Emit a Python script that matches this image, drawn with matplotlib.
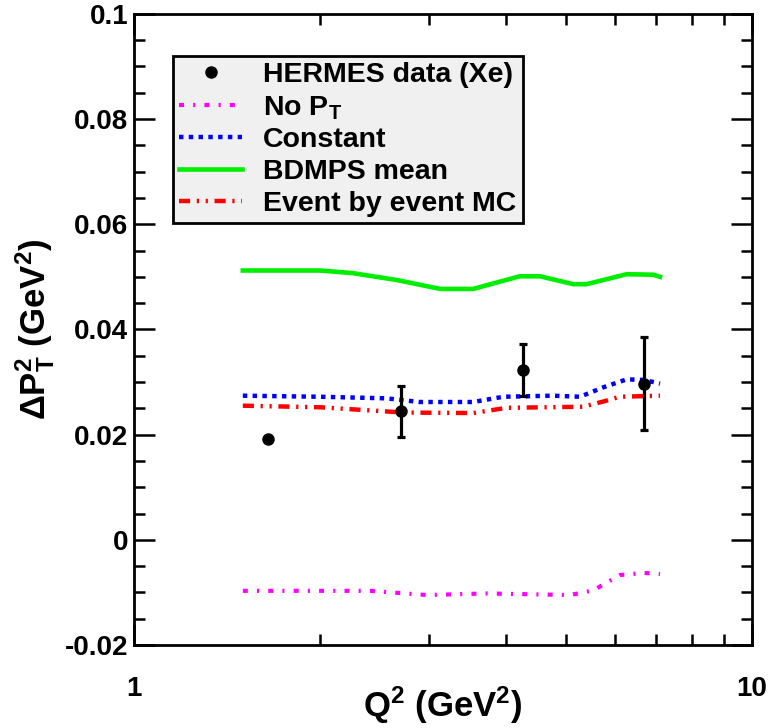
import numpy as np
import matplotlib
matplotlib.use('Agg')
import matplotlib.pyplot as plt
from matplotlib.lines import Line2D
from matplotlib.ticker import FixedLocator, NullFormatter, MultipleLocator

# fonts: bold Helvetica-like everywhere
plt.rcParams['font.family'] = 'Liberation Sans'
plt.rcParams['font.weight'] = 'bold'
plt.rcParams['mathtext.fontset'] = 'custom'
plt.rcParams['mathtext.rm'] = 'Liberation Sans:bold'
plt.rcParams['mathtext.bf'] = 'Liberation Sans:bold'
plt.rcParams['mathtext.it'] = 'Liberation Sans:bold'
plt.rcParams['mathtext.default'] = 'bf'

# HERMES data (Xe)
data_q2 = [1.65, 2.70, 4.26, 6.69]
data_dpt = [0.0191, 0.0244, 0.0323, 0.0297]
data_err = [0.0, 0.0049, 0.0050, 0.0088]

# model curves
green_q2 = [1.50, 2.00, 2.26, 2.66, 3.13, 3.54, 4.21, 4.54, 5.14, 5.40, 6.27, 6.92, 7.10]
green_dpt = [0.0512, 0.0512, 0.0507, 0.0494, 0.0477, 0.0477, 0.0501, 0.0501, 0.0486, 0.0486, 0.0505, 0.0504, 0.0500]

blue_q2 = [1.50, 2.00, 2.56, 2.90, 3.54, 3.96, 4.77, 5.27, 5.75, 6.27, 6.69, 7.10]
blue_dpt = [0.0274, 0.0272, 0.0269, 0.0262, 0.0262, 0.0272, 0.0274, 0.0272, 0.0290, 0.0305, 0.0304, 0.0297]

red_q2 = [1.50, 2.00, 2.73, 3.54, 4.01, 5.33, 5.75, 6.11, 7.10]
red_dpt = [0.0255, 0.0252, 0.0242, 0.0241, 0.0251, 0.0253, 0.0263, 0.0272, 0.0274]

mag_q2 = [1.50, 2.41, 2.98, 3.72, 5.08, 5.54, 6.11, 6.69, 7.10]
mag_dpt = [-0.0097, -0.0097, -0.0105, -0.0102, -0.0105, -0.0096, -0.0067, -0.0063, -0.0065]

fig = plt.figure(figsize=(7.72, 7.28), dpi=100)
ax = fig.add_axes([0.1736, 0.114, 0.8004, 0.867])

ax.errorbar(data_q2, data_dpt, yerr=data_err, fmt='o', color='black', ms=8,
            elinewidth=2.3, capsize=3, capthick=2.3, zorder=5)
l_mag, = ax.plot(mag_q2, mag_dpt, color='#ff00ff', lw=3, dashes=(1.2, 2.2, 0.5, 2.2))
l_blue, = ax.plot(blue_q2, blue_dpt, color='#0000ff', lw=3.2, dashes=(1.0, 1.2))
l_green, = ax.plot(green_q2, green_dpt, color='#00ee00', lw=3.3)
l_red, = ax.plot(red_q2, red_dpt, color='#ff0000', lw=3.2, dashes=(2.5, 1.5, 0.5, 1.5, 0.5, 1.5))
h_data = Line2D([], [], marker='o', color='black', ls='none', ms=8)

ax.set_xscale('log')
ax.set_xlim(1, 10)
ax.set_ylim(-0.02, 0.1)

ax.xaxis.set_major_locator(FixedLocator([1, 10]))
ax.set_xticklabels(['1', '10'])
ax.xaxis.set_minor_locator(FixedLocator([2, 3, 4, 5, 6, 7, 8, 9]))
ax.xaxis.set_minor_formatter(NullFormatter())
ax.yaxis.set_minor_locator(MultipleLocator(0.005))
ax.set_yticks([-0.02, 0, 0.02, 0.04, 0.06, 0.08, 0.1])
ax.set_yticklabels(['-0.02', '0', '0.02', '0.04', '0.06', '0.08', '0.1'])

ax.tick_params(which='both', direction='in', top=True, right=True, width=1.8,
               labelsize=20)
ax.tick_params(which='major', length=15)
ax.tick_params(which='minor', length=8)
ax.tick_params(axis='y', pad=4)
ax.tick_params(axis='x', pad=22)
for s in ax.spines.values():
    s.set_linewidth(2)

ax.set_xlabel('Q$^2$ (GeV$^2$)', fontsize=25, fontweight='bold', labelpad=-12)
ax.set_ylabel(r'$\Delta$P$_T^2$ (GeV$^2$)', fontsize=25, fontweight='bold', labelpad=6)

leg = ax.legend([h_data, l_mag, l_blue, l_green, l_red],
                ['HERMES data (Xe)', 'No P$_T$', 'Constant', 'BDMPS mean', 'Event by event MC'],
                loc='upper left', bbox_to_anchor=(0.063, 0.933), borderaxespad=0,
                prop={'size': 20.5, 'weight': 'bold'}, handlelength=2.2, frameon=True, fancybox=False,
                facecolor='#f0f0f0', edgecolor='black', framealpha=1,
                labelspacing=0.2, borderpad=0.22, handletextpad=0.75)
leg.get_frame().set_linewidth(2)

plt.savefig('out.png', dpi=100)
